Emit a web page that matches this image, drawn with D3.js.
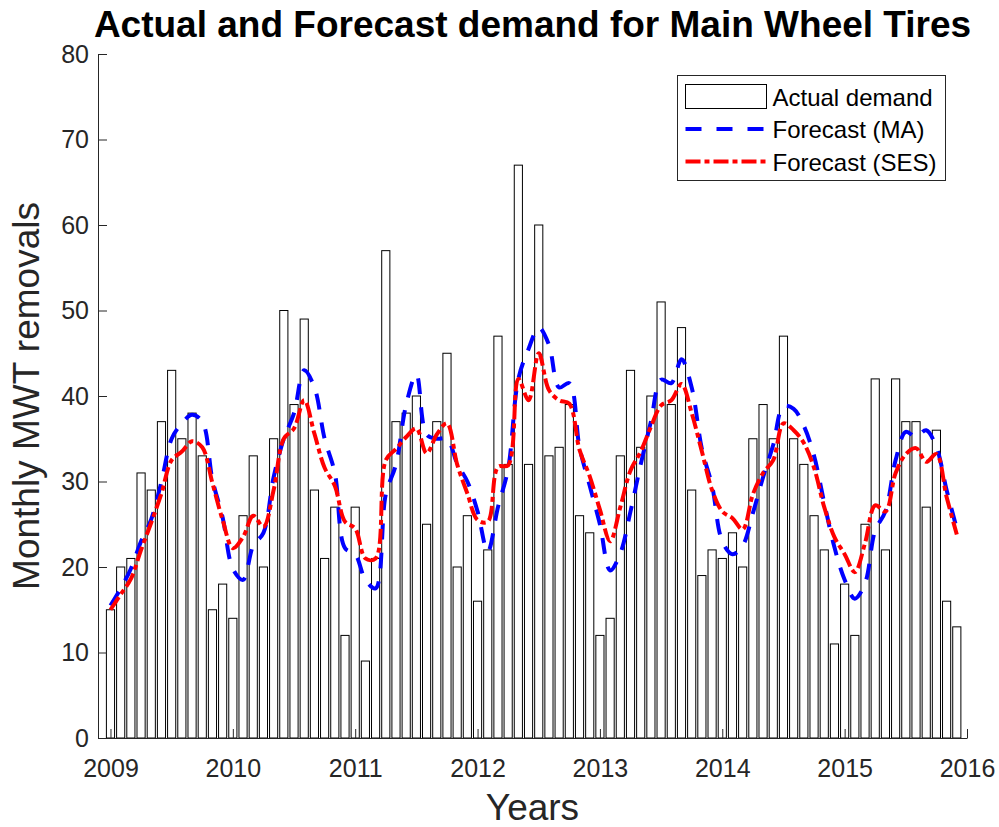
<!DOCTYPE html>
<html>
<head>
<meta charset="utf-8">
<title>Actual and Forecast demand for Main Wheel Tires</title>
<script src="https://cdn.jsdelivr.net/npm/d3@7"></script>
<style>
  html, body { margin: 0; padding: 0; background: #fff; }
  #chart { width: 999px; height: 827px; }
  #chart text { font-family: "Liberation Sans", Arial, Helvetica, sans-serif; }
</style>
</head>
<body>
<div id="chart"></div>
<script>
const yearTicks = [2009, 2010, 2011, 2012, 2013, 2014, 2015, 2016];
const valueTicks = [0, 10, 20, 30, 40, 50, 60, 70, 80];
const legendLabels = ['Actual demand', 'Forecast (MA)', 'Forecast (SES)'];

// monthly MWT removals, Jan 2009 .. Dec 2015
const actualDemand = [
  15, 20, 21, 31, 29, 37, 43, 35, 38, 33, 15, 18,
  14, 26, 33, 20, 35, 50, 39, 49, 29, 21, 27, 12,
  27, 9, 21, 57, 37, 38, 40, 25, 37, 45, 20, 26,
  16, 22, 47, 32, 67, 32, 60, 33, 34, 39, 26, 24,
  12, 14, 33, 43, 34, 40, 51, 39, 48, 29, 19, 22,
  21, 24, 20, 35, 39, 35, 47, 35, 32, 26, 22, 11,
  18, 12, 25, 42, 22, 42, 37, 37, 27, 36, 16, 13
];

const forecastMA = [
  15.5, 17.5, 19.8, 23, 25.6, 30, 35, 36.8, 37.8, 37, 30.2, 25.8,
  19.8, 18.5, 22.5, 24, 30.5, 35, 38, 43, 41, 35, 31, 22.2,
  21.5, 18.5, 17.5, 28.5, 32, 39, 42.5, 35.5, 35, 35, 32.1, 30,
  26.5, 21.8, 27, 31.5, 42, 45.5, 48, 46, 41, 41.5, 34, 29.5,
  25, 19.6, 21.6, 26.5, 32, 37, 41.9, 41.5, 44.3, 41, 33.8, 29.5,
  23, 21.5, 22.5, 26.3, 30.5, 34.3, 38.8, 38.5, 36.5, 33, 27.5, 22.3,
  18.5, 16.3, 18.1, 24.3, 26.5, 32.5, 35.8, 35.2, 36, 34, 29, 24.5
];

const forecastSES = [
  15, 16.8, 18.6, 22, 25.2, 28.6, 32.5, 33.5, 34.7, 34, 29.8, 25.5,
  22.2, 23.5, 26, 24.7, 29, 35, 36.2, 39.5, 35.6, 31.6, 29.5, 25.3,
  24.5, 21, 21, 32.5, 33.8, 35.2, 36.2, 33.3, 35.5, 36.8, 32, 28.6,
  25.5, 25.3, 31.7, 31.9, 42, 39.5, 45, 40.7, 39.5, 39.1, 33.7, 30.6,
  26.7, 23, 27, 31.3, 33.5, 36.4, 38.9, 39.5, 41.4, 38, 33.5, 29,
  26.5, 25.7, 24.4, 28.5, 31, 32.5, 36.8, 36, 34.5, 31.6, 27, 23.5,
  21.5, 19.4, 22.8, 27.2, 26.5, 31, 33.2, 33.9, 32.3, 33.2, 28.2, 23.8
];

const WIDTH = 999;
const HEIGHT = 827;
const AXIS_COLOR = '#262626';
const plot = { left: 98, right: 967, top: 54, bottom: 738 };

// month index -> fractional year
const toYear = (i) => yearTicks[0] + i / 12;

const svg = d3
  .select('#chart')
  .append('svg')
  .attr('width', WIDTH)
  .attr('height', HEIGHT)
  .attr('viewBox', `0 0 ${WIDTH} ${HEIGHT}`);

const x = d3.scaleLinear()
  .domain([2008.898, yearTicks[yearTicks.length - 1]])
  .range([plot.left, plot.right]);

const y = d3.scaleLinear()
  .domain([valueTicks[0], valueTicks[valueTicks.length - 1]])
  .range([plot.bottom, plot.top]);

const barWidth = x(toYear(0.8)) - x(toYear(0));

// bars
svg.append('g')
  .selectAll('rect')
  .data(actualDemand)
  .enter()
  .append('rect')
  .attr('x', (d, i) => x(toYear(i)) - barWidth / 2)
  .attr('y', (d) => y(d))
  .attr('width', barWidth)
  .attr('height', (d) => y(0) - y(d))
  .attr('fill', '#fff')
  .attr('stroke', '#000')
  .attr('stroke-width', 1);

const line = d3.line()
  .x((d, i) => x(toYear(i)))
  .y((d) => y(d))
  .curve(d3.curveCatmullRom.alpha(0.5));

svg.append('path')
  .datum(forecastMA)
  .attr('d', line)
  .attr('fill', 'none')
  .attr('stroke', '#0000ff')
  .attr('stroke-width', 4)
  .attr('stroke-dasharray', '16,13');

svg.append('path')
  .datum(forecastSES)
  .attr('d', line)
  .attr('fill', 'none')
  .attr('stroke', '#ff0000')
  .attr('stroke-width', 4)
  .attr('stroke-dasharray', '15,4,5,4');

// axes, ticks pointing inward like the original
const styleAxis = (g) => {
  g.select('.domain').attr('stroke', AXIS_COLOR);
  g.selectAll('.tick line').attr('stroke', AXIS_COLOR);
  g.selectAll('.tick text')
    .attr('fill', AXIS_COLOR)
    .style('font-size', '25px');
};

svg.append('g')
  .attr('transform', `translate(${plot.left},0)`)
  .call(d3.axisLeft(y).tickValues(valueTicks).tickSizeInner(-9).tickSizeOuter(0).tickPadding(9))
  .call(styleAxis);

svg.append('g')
  .attr('transform', `translate(0,${plot.bottom})`)
  .call(d3.axisBottom(x).tickValues(yearTicks).tickFormat(d3.format('d')).tickSizeInner(-9).tickSizeOuter(0).tickPadding(21))
  .call(styleAxis);

// titles
svg.append('text')
  .attr('x', (plot.left + plot.right) / 2)
  .attr('y', 37)
  .attr('text-anchor', 'middle')
  .style('font-size', '37px')
  .style('font-weight', 'bold')
  .attr('fill', '#000')
  .text('Actual and Forecast demand for Main Wheel Tires');

svg.append('text')
  .attr('x', (plot.left + plot.right) / 2)
  .attr('y', 820)
  .attr('text-anchor', 'middle')
  .style('font-size', '37px')
  .attr('fill', AXIS_COLOR)
  .text('Years');

svg.append('text')
  .attr('transform', `translate(39,${(plot.top + plot.bottom) / 2}) rotate(-90)`)
  .attr('text-anchor', 'middle')
  .style('font-size', '37px')
  .attr('fill', AXIS_COLOR)
  .text('Monthly MWT removals');

// legend
const legend = svg.append('g').attr('transform', 'translate(677.5,75.5)');

legend.append('rect')
  .attr('width', 268)
  .attr('height', 105)
  .attr('fill', '#fff')
  .attr('stroke', AXIS_COLOR)
  .attr('stroke-width', 1);

const rowY = (i) => 21 + i * 32.5;
const samples = [
  (g) => g.append('rect')
    .attr('x', 8).attr('y', -12).attr('width', 81).attr('height', 24)
    .attr('fill', '#fff').attr('stroke', '#000').attr('stroke-width', 1),
  (g) => g.append('line')
    .attr('x1', 8).attr('x2', 88)
    .attr('stroke', '#0000ff').attr('stroke-width', 4).attr('stroke-dasharray', '16,15'),
  (g) => g.append('line')
    .attr('x1', 8).attr('x2', 88)
    .attr('stroke', '#ff0000').attr('stroke-width', 4).attr('stroke-dasharray', '15,4,5,4')
];

legendLabels.forEach((label, i) => {
  const row = legend.append('g').attr('transform', `translate(0,${rowY(i)})`);
  samples[i](row);
  row.append('text')
    .attr('x', 95)
    .attr('y', 9)
    .style('font-size', '24px')
    .attr('fill', '#000')
    .text(label);
});
</script>
</body>
</html>
